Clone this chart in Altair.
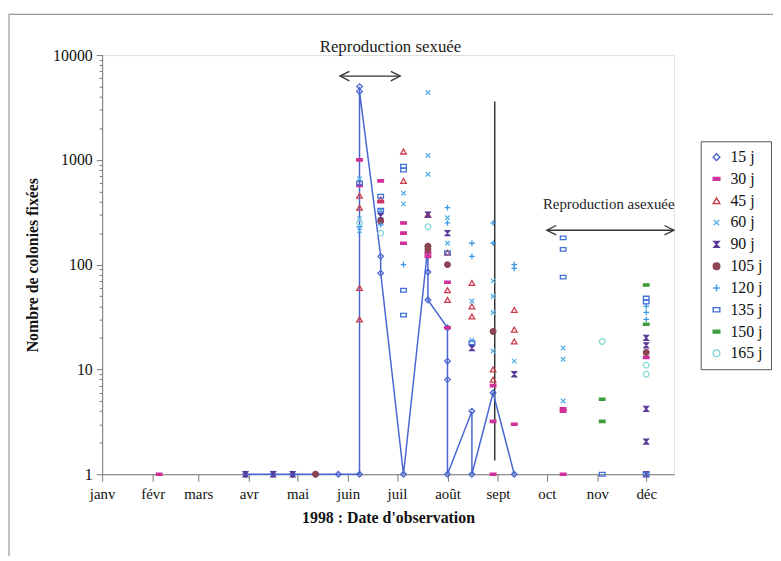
import altair as alt
import pandas as pd

# ---------------- data ----------------
series = ["15 j", "30 j", "45 j", "60 j", "90 j", "105 j", "120 j", "135 j", "150 j", "165 j"]
colors = ["#4A66D2", "#D0309A", "#CC3A48", "#58B2E6", "#5A3A98", "#8C4552", "#3C98E4", "#3F70D4", "#3C9C3C", "#86D8D8"]
fills = ["transparent", "#D0309A", "transparent", "transparent", "#5A3A98", "#8C4552",
         "transparent", "transparent", "#3C9C3C", "transparent"]
DASH = "M-1,-0.42L1,-0.42L1,0.42L-1,0.42Z"
XMARK = "M-0.8,-0.8L0.8,0.8M-0.8,0.8L0.8,-0.8"
HOUR = "M-0.8,-0.9L0.8,-0.9L-0.8,0.9L0.8,0.9Z"
PLUS = "M-1,0L1,0M0,-1L0,1"
RECT = "M-1,-0.65L1,-0.65L1,0.65L-1,0.65Z"
shapes = ["diamond", DASH, "triangle-up", XMARK, HOUR, "circle", PLUS, RECT, DASH, "circle"]

obs_dates = ["1998/02/05", "1998/03/30", "1998/04/16", "1998/04/28", "1998/05/12", "1998/05/26",
             "1998/06/08", "1998/06/21", "1998/07/05", "1998/07/20", "1998/08/01", "1998/08/16",
             "1998/08/29", "1998/09/11", "1998/10/11", "1998/11/04", "1998/12/01"]

s15_idx = [1, 2, 3, 4, 5, 6, 6, 6, 7, 7, 8, 9, 9, 9, 10, 10, 10, 10, 11, 11, 12, 13]
s15_val = [1, 1, 1, 1, 1, 1, 5000, 4500, 120, 83, 1, 150, 85, 46, 25, 12, 8, 1, 4, 1, 6, 1]

s30_idx = [0, 6, 6, 7, 7, 8, 8, 8, 9, 9, 10, 10, 12, 12, 12, 13, 14, 14, 14, 16]
s30_val = [1, 1000, 570, 630, 400, 250, 200, 160, 130, 120, 68, 25, 7, 3.2, 1, 3, 4.2, 4, 1, 13]

s45_idx = [6, 6, 6, 6, 7, 8, 8, 9, 10, 10, 10, 11, 11, 11, 12, 12, 13, 13, 13]
s45_val = [455, 350, 60, 30, 420, 1200, 630, 300, 130, 57, 46, 67, 40, 32, 10, 8, 37, 24, 18.5]

s60_idx = [6, 6, 6, 7, 8, 8, 9, 9, 9, 10, 10, 11, 11, 12, 12, 12, 12, 13, 14, 14, 14]
s60_val = [660, 275, 210, 330, 480, 380, 4400, 1100, 730, 280, 160, 45, 19, 70, 50, 35, 15, 12, 16, 12.5, 5]

s90_idx = [1, 2, 3, 7, 9, 10, 11, 13, 16, 16, 16, 16, 16]
s90_val = [1, 1, 1, 290, 300, 200, 16, 9, 20, 17, 4.2, 2.05, 1]

s105_idx = [4, 7, 9, 9, 10, 12, 16]
s105_val = [1, 260, 150, 140, 100, 23, 14.5]

s120_idx = [6, 7, 8, 10, 10, 11, 11, 12, 12, 13, 13, 16, 16, 16]
s120_val = [230, 240, 100, 350, 250, 160, 120, 250, 160, 100, 92, 40, 35, 30]

s135_idx = [6, 7, 7, 8, 8, 8, 8, 10, 11, 14, 14, 14, 15, 16, 16, 16]
s135_val = [600, 450, 330, 870, 800, 57, 33, 130, 18, 180, 140, 76, 1, 48, 44, 1]

s150_idx = [15, 15, 16, 16]
s150_val = [5.2, 3.2, 64, 27]

s165_idx = [6, 7, 9, 15, 16, 16]
s165_val = [250, 200, 230, 18.5, 11, 9]

ann_text = ["Reproduction sexuée", "Reproduction asexuée"]
ann_date = ["1998/06/27", "1998/11/08"]
ann_val = [11900, 382]
ann_size = [17, 15]

arrow_start = ["1998/05/27", "1998/10/01"]
arrow_end = ["1998/07/03", "1998/12/18"]
arrow_val = [6300, 213]

sep_date = ["1998/08/30"]
sep_low = [1.35]
sep_high = [3600]

months = ["janv", "févr", "mars", "avr", "mai", "juin", "juil", "août", "sept", "oct", "nov", "déc"]

# ---------------- build tables ----------------
all_idx = [s15_idx, s30_idx, s45_idx, s60_idx, s90_idx, s105_idx, s120_idx, s135_idx, s150_idx, s165_idx]
all_val = [s15_val, s30_val, s45_val, s60_val, s90_val, s105_val, s120_val, s135_val, s150_val, s165_val]
rows = []
for name, idxs, vals in zip(series, all_idx, all_val):
    for k, (i, v) in enumerate(zip(idxs, vals)):
        rows.append({"series": name, "date": obs_dates[i], "value": v, "k": k})
df = pd.DataFrame(rows)
line_df = df[df.series == "15 j"].copy()

ann_df = pd.DataFrame({"text": ann_text, "date": ann_date, "value": ann_val, "size": ann_size})
arr_df = pd.DataFrame({"start": arrow_start, "end": arrow_end, "value": arrow_val})
sep_df = pd.DataFrame({"date": sep_date, "low": sep_low, "high": sep_high})

FONT = "Liberation Serif"

xscale = alt.Scale(domain=[alt.DateTime(year=1998, month=1, date=1),
                           alt.DateTime(year=1998, month=12, date=18)], nice=False)
yscale = alt.Scale(type="log", domain=[1, 10000], nice=False)

xvals = []
for m in range(1, 13):
    xvals.append(alt.DateTime(year=1998, month=m, date=1))
    xvals.append(alt.DateTime(year=1998, month=m, date=15))

month_arr = "[" + ",".join("'" + m + "'" for m in months) + "]"
xaxis = alt.Axis(
    values=xvals,
    labelExpr="date(datum.value)==1 ? " + month_arr + "[month(datum.value)] : ''",
    title="1998 : Date d'observation", grid=False, labelOverlap=False, labelFlush=False,
    labelFont=FONT, labelFontSize=15, labelColor="#111", labelPadding=5,
    tickSize={"condition": {"test": "date(datum.value)==1", "value": 7}, "value": 4},
    tickColor="#777", domainColor="#777", titleFont=FONT, titleFontSize=16,
    titleFontWeight="bold", titleColor="#111", titlePadding=9,
)

yvals = []
for d in [1, 10, 100, 1000]:
    for m in range(1, 10):
        yvals.append(d * m)
yvals.append(10000)
major = "datum.value==1||datum.value==10||datum.value==100||datum.value==1000||datum.value==10000"
yaxis = alt.Axis(
    values=yvals, labelExpr="(" + major + ") ? toString(datum.value) : ''",
    title="Nombre de colonies fixées", grid=False, labelOverlap=False, labelFlush=False,
    labelFont=FONT, labelFontSize=16, labelColor="#111", labelPadding=4,
    tickSize={"condition": {"test": major, "value": 6}, "value": 3},
    tickColor="#777", domainColor="#777", titleFont=FONT, titleFontSize=16,
    titleFontWeight="bold", titleColor="#111", titlePadding=12,
)

legend = alt.Legend(
    title=None, orient="none", legendX=604, legendY=87, strokeColor="#555",
    padding=8, labelFont=FONT, labelFontSize=16, labelColor="#111",
    symbolSize=45, symbolStrokeWidth=1.4, rowPadding=6, labelOffset=6,
)

frame = alt.Chart(pd.DataFrame({"a": [0]})).mark_rect(
    fill="transparent", stroke="#999", strokeWidth=1.2
).encode(x=alt.value(-94), x2=alt.value(700), y=alt.value(-41), y2=alt.value(530))

sep = alt.Chart(sep_df).mark_rule(color="#333", strokeWidth=1.5).encode(
    x=alt.X("date:T", scale=xscale, axis=xaxis),
    y=alt.Y("low:Q", scale=yscale, axis=yaxis),
    y2="high:Q",
)

line = alt.Chart(line_df).mark_line(color="#4A66D2", strokeWidth=1.5).encode(
    x=alt.X("date:T", scale=xscale, axis=xaxis),
    y=alt.Y("value:Q", scale=yscale, axis=yaxis),
    order="k:Q",
)

points = alt.Chart(df).mark_point(filled=False, size=32, strokeWidth=1.3, opacity=1).encode(
    x=alt.X("date:T", scale=xscale, axis=xaxis),
    y=alt.Y("value:Q", scale=yscale, axis=yaxis),
    color=alt.Color("series:N", scale=alt.Scale(domain=series, range=colors), legend=legend),
    fill=alt.Fill("series:N", scale=alt.Scale(domain=series, range=fills), legend=legend),
    shape=alt.Shape("series:N", scale=alt.Scale(domain=series, range=shapes), legend=legend),
)

arrow_line = alt.Chart(arr_df).mark_rule(color="#333", strokeWidth=1.3).encode(
    x=alt.X("start:T", scale=xscale), x2="end:T",
    y=alt.Y("value:Q", scale=yscale),
)
left_head = alt.Chart(arr_df).mark_point(
    shape="M2,-1L0,0L2,1", filled=False, color="#333", strokeWidth=1.3, size=90, opacity=1
).encode(x=alt.X("start:T", scale=xscale), y=alt.Y("value:Q", scale=yscale))
right_head = alt.Chart(arr_df).mark_point(
    shape="M-2,-1L0,0L-2,1", filled=False, color="#333", strokeWidth=1.3, size=90, opacity=1
).encode(x=alt.X("end:T", scale=xscale), y=alt.Y("value:Q", scale=yscale))

texts = alt.Chart(ann_df).mark_text(font=FONT, color="#222", baseline="middle").encode(
    x=alt.X("date:T", scale=xscale), y=alt.Y("value:Q", scale=yscale), text="text:N",
    size=alt.Size("size:Q", scale=None, legend=None),
)

chart = alt.layer(frame, sep, line, points, arrow_line, left_head, right_head, texts).properties(
    width=577, height=423,
    autosize=alt.AutoSizeParams(type="none"),
    padding={"left": 95, "top": 45, "right": 100, "bottom": 80},
).configure_view(stroke=None).configure(background="white")

chart.save("out.html", embed_options={"renderer": "svg", "actions": False})
